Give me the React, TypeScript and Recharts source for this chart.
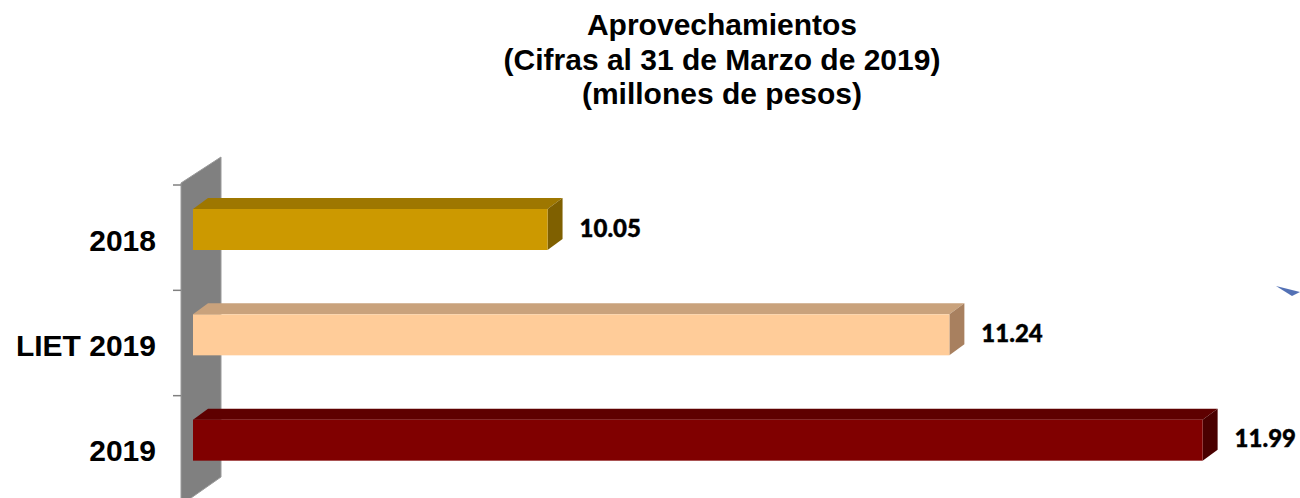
import { BarChart, Bar, XAxis, YAxis, LabelList, Customized } from 'recharts';

const categories = ['2018', 'LIET 2019', '2019'];
const values = [10.05, 11.24, 11.99];
const titleLines = ['Aprovechamientos', '(Cifras al 31 de Marzo de 2019)', '(millones de pesos)'];

// front / top / side faces of each bar
const frontColors = ['#CC9900', '#FFCC99', '#800000'];
const topColors = ['#9E7700', '#C9A27C', '#5E0000'];
const sideColors = ['#7F6000', '#A8805F', '#4A0000'];

const data = categories.map((name, i) => ({ name, value: values[i] }));

const CHART_W = 1300;
const CHART_H = 520;
const PLOT_TOP = 185;
const PLOT_BOTTOM = 501;
const PLOT_LEFT = 193;
const BAND = (PLOT_BOTTOM - PLOT_TOP) / categories.length;
const DEPTH_X = 15;
const DEPTH_Y = 11;
const LIFT = 8;

const Box3D = (props: any) => {
  const { x, y, width, height, index } = props;
  const i = index ?? categories.indexOf(props.payload?.name);
  const top = y - LIFT;
  const right = x + width;
  return (
    <g>
      <polygon
        points={`${x},${top} ${x + DEPTH_X},${top - DEPTH_Y} ${right + DEPTH_X},${top - DEPTH_Y} ${right},${top}`}
        fill={topColors[i]}
      />
      <polygon
        points={`${right},${top} ${right + DEPTH_X},${top - DEPTH_Y} ${right + DEPTH_X},${top + height - DEPTH_Y} ${right},${top + height}`}
        fill={sideColors[i]}
      />
      <rect x={x} y={top} width={width} height={height} fill={frontColors[i]} />
    </g>
  );
};

const ValueLabel = (props: any) => {
  const { x, y, width, height, value } = props;
  const cy = y + height / 2 - LIFT - 2;
  return (
    <text
      x={x + width + 32}
      y={cy + 9}
      fontFamily="Lato, 'Open Sans', sans-serif"
      fontWeight={900}
      fontSize={24}
      fill="#000"
      stroke="#000"
      strokeWidth={0.4}
    >
      {Number(value).toFixed(2)}
    </text>
  );
};

const CategoryTick = (props: any) => {
  const { y, payload } = props;
  return (
    <g>
      <line x1={173} x2={181} y1={y - BAND / 2} y2={y - BAND / 2} stroke="#808080" strokeWidth={1.5} />
      <text
        x={156}
        y={y + 13}
        textAnchor="end"
        fontFamily="'Liberation Sans', Arial, sans-serif"
        fontWeight={700}
        fontSize={30}
        fill="#000"
      >
        {payload.value}
      </text>
    </g>
  );
};

const Wall = () => (
  <g>
    <polygon points="181,183 221,157 221,477 181,505" fill="#808080" stroke="#9a9a9a" strokeWidth={1} />
    <path d="M1276,286 L1300,292 L1292,296 Z" fill="#3558a8" opacity={0.85} />
  </g>
);

const Title = () => (
  <g>
    {titleLines.map((line, i) => (
      <text
        key={line}
        x={722}
        y={35 + i * 34.5}
        textAnchor="middle"
        fontFamily="'Liberation Sans', Arial, sans-serif"
        fontWeight={700}
        fontSize={30}
        fill="#000"
      >
        {line}
      </text>
    ))}
  </g>
);

export default function App() {
  return (
    <div
      style={{
        position: 'absolute',
        left: 0,
        top: 0,
        width: CHART_W,
        height: 498,
        overflow: 'hidden',
        background: '#fff',
      }}
    >
      <BarChart
        width={CHART_W}
        height={CHART_H}
        data={data}
        layout="vertical"
        margin={{ top: PLOT_TOP, right: CHART_W - 1206, bottom: CHART_H - PLOT_BOTTOM, left: 0 }}
      >
        <Customized component={<Wall />} />
        <Customized component={<Title />} />
        <XAxis type="number" domain={[9, 12]} hide />
        <YAxis
          type="category"
          dataKey="name"
          width={PLOT_LEFT}
          axisLine={false}
          tickLine={false}
          tick={<CategoryTick />}
          interval={0}
        />
        <Bar dataKey="value" barSize={41} shape={<Box3D />} isAnimationActive={false}>
          <LabelList dataKey="value" content={<ValueLabel />} />
        </Bar>
      </BarChart>
    </div>
  );
}
